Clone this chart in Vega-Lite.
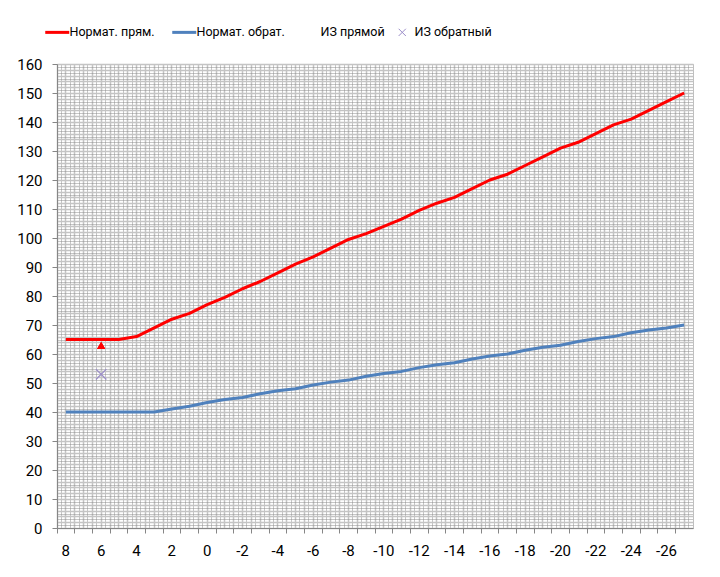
{
  "$schema": "https://vega.github.io/schema/vega-lite/v6.json",
  "width": 636,
  "height": 464,
  "autosize": {"type": "none"},
  "padding": {"left": 57, "top": 64, "right": 27, "bottom": 49},
  "background": "white",
  "config": {
    "font": "Roboto",
    "view": {"stroke": "#BFBFBF"},
    "axis": {"labelFont": "Roboto", "labelFontSize": 15, "labelColor": "#000000", "domainColor": "#868686", "tickColor": "#868686", "title": null},
    "legend": {"labelFont": "Roboto", "labelFontSize": 12.5, "labelColor": "#000000"}
  },
  "datasets": {
    "lines": [
      {"x": 8, "s": "Нормат. прям.", "v": 65}, {"x": 7, "s": "Нормат. прям.", "v": 65}, {"x": 6, "s": "Нормат. прям.", "v": 65}, {"x": 5, "s": "Нормат. прям.", "v": 65},
      {"x": 4, "s": "Нормат. прям.", "v": 66}, {"x": 3, "s": "Нормат. прям.", "v": 69}, {"x": 2, "s": "Нормат. прям.", "v": 72}, {"x": 1, "s": "Нормат. прям.", "v": 74},
      {"x": 0, "s": "Нормат. прям.", "v": 77}, {"x": -1, "s": "Нормат. прям.", "v": 79.5}, {"x": -2, "s": "Нормат. прям.", "v": 82.5}, {"x": -3, "s": "Нормат. прям.", "v": 85},
      {"x": -4, "s": "Нормат. прям.", "v": 88}, {"x": -5, "s": "Нормат. прям.", "v": 91}, {"x": -6, "s": "Нормат. прям.", "v": 93.5}, {"x": -7, "s": "Нормат. прям.", "v": 96.5},
      {"x": -8, "s": "Нормат. прям.", "v": 99.5}, {"x": -9, "s": "Нормат. прям.", "v": 101.5}, {"x": -10, "s": "Нормат. прям.", "v": 104}, {"x": -11, "s": "Нормат. прям.", "v": 106.5},
      {"x": -12, "s": "Нормат. прям.", "v": 109.5}, {"x": -13, "s": "Нормат. прям.", "v": 112}, {"x": -14, "s": "Нормат. прям.", "v": 114}, {"x": -15, "s": "Нормат. прям.", "v": 117},
      {"x": -16, "s": "Нормат. прям.", "v": 120}, {"x": -17, "s": "Нормат. прям.", "v": 122}, {"x": -18, "s": "Нормат. прям.", "v": 125}, {"x": -19, "s": "Нормат. прям.", "v": 128},
      {"x": -20, "s": "Нормат. прям.", "v": 131}, {"x": -21, "s": "Нормат. прям.", "v": 133}, {"x": -22, "s": "Нормат. прям.", "v": 136}, {"x": -23, "s": "Нормат. прям.", "v": 139},
      {"x": -24, "s": "Нормат. прям.", "v": 141}, {"x": -25, "s": "Нормат. прям.", "v": 144}, {"x": -26, "s": "Нормат. прям.", "v": 147}, {"x": -27, "s": "Нормат. прям.", "v": 150},
      {"x": 8, "s": "Нормат. обрат.", "v": 40}, {"x": 7, "s": "Нормат. обрат.", "v": 40}, {"x": 6, "s": "Нормат. обрат.", "v": 40}, {"x": 5, "s": "Нормат. обрат.", "v": 40},
      {"x": 4, "s": "Нормат. обрат.", "v": 40}, {"x": 3, "s": "Нормат. обрат.", "v": 40}, {"x": 2, "s": "Нормат. обрат.", "v": 41}, {"x": 1, "s": "Нормат. обрат.", "v": 42},
      {"x": 0, "s": "Нормат. обрат.", "v": 43.3}, {"x": -1, "s": "Нормат. обрат.", "v": 44.3}, {"x": -2, "s": "Нормат. обрат.", "v": 45}, {"x": -3, "s": "Нормат. обрат.", "v": 46.3},
      {"x": -4, "s": "Нормат. обрат.", "v": 47.3}, {"x": -5, "s": "Нормат. обрат.", "v": 48}, {"x": -6, "s": "Нормат. обрат.", "v": 49.3}, {"x": -7, "s": "Нормат. обрат.", "v": 50.3},
      {"x": -8, "s": "Нормат. обрат.", "v": 51}, {"x": -9, "s": "Нормат. обрат.", "v": 52.3}, {"x": -10, "s": "Нормат. обрат.", "v": 53.3}, {"x": -11, "s": "Нормат. обрат.", "v": 54},
      {"x": -12, "s": "Нормат. обрат.", "v": 55.3}, {"x": -13, "s": "Нормат. обрат.", "v": 56.3}, {"x": -14, "s": "Нормат. обрат.", "v": 57}, {"x": -15, "s": "Нормат. обрат.", "v": 58.3},
      {"x": -16, "s": "Нормат. обрат.", "v": 59.3}, {"x": -17, "s": "Нормат. обрат.", "v": 60}, {"x": -18, "s": "Нормат. обрат.", "v": 61.3}, {"x": -19, "s": "Нормат. обрат.", "v": 62.3},
      {"x": -20, "s": "Нормат. обрат.", "v": 63}, {"x": -21, "s": "Нормат. обрат.", "v": 64.3}, {"x": -22, "s": "Нормат. обрат.", "v": 65.3}, {"x": -23, "s": "Нормат. обрат.", "v": 66},
      {"x": -24, "s": "Нормат. обрат.", "v": 67.3}, {"x": -25, "s": "Нормат. обрат.", "v": 68.3}, {"x": -26, "s": "Нормат. обрат.", "v": 69}, {"x": -27, "s": "Нормат. обрат.", "v": 70}
    ],
    "points": [
      {"x": 6, "s": "ИЗ прямой", "v": 63},
      {"x": 6, "s": "ИЗ обратный", "v": 53}
    ]
  },
  "resolve": {"axis": {"x": "independent", "y": "independent"}},
  "layer": [
    {
      "data": {"name": "points"},
      "transform": [{"filter": "datum.s === 'ИЗ прямой'"}],
      "mark": {"type": "point", "shape": "triangle-up", "filled": true, "size": 70, "opacity": 1},
      "encoding": {
        "x": {"field": "x", "type": "ordinal", "sort": "descending",
          "scale": {"type": "band", "paddingInner": 0, "paddingOuter": 0},
          "axis": {"orient": "bottom", "bandPosition": 0.75, "labels": false, "ticks": false, "domain": false, "grid": true, "gridColor": "#8C8C8C", "gridDash": [1, 1], "gridWidth": 1}},
        "y": {"field": "v", "type": "quantitative",
          "scale": {"domain": [0, 160], "nice": false, "zero": true},
          "axis": null},
        "color": {"field": "s", "type": "nominal"}
      }
    },
    {
      "data": {"name": "lines"},
      "mark": {"type": "line", "strokeWidth": 3, "strokeJoin": "round"},
      "encoding": {
        "x": {"field": "x", "type": "ordinal", "sort": "descending",
          "axis": {"orient": "bottom", "bandPosition": 0, "labels": false, "ticks": true, "tickSize": 5, "grid": true, "gridColor": "#C4C4C4", "gridWidth": 1.5, "domain": true}},
        "y": {"field": "v", "type": "quantitative",
          "axis": {"orient": "left", "values": [0,10,20,30,40,50,60,70,80,90,100,110,120,130,140,150,160], "grid": false, "tickSize": 5, "labelPadding": 10, "domain": true}},
        "color": {"field": "s", "type": "nominal",
          "scale": {"domain": ["Нормат. прям.", "Нормат. обрат.", "ИЗ прямой", "ИЗ обратный"], "range": ["#FF0000", "#4F81BD", "#FF0000", "#9A8CC8"]},
          "legend": {"title": null, "orient": "none", "legendX": -6, "legendY": -38, "direction": "horizontal", "padding": 0,
            "symbolSize": 576, "symbolStrokeWidth": 3, "labelOffset": 6, "columnPadding": 11,
            "encode": {"symbols": {"update": {
              "shape": {"signal": "datum.value === 'ИЗ обратный' ? 'M-0.3,-0.3L0.3,0.3M-0.3,0.3L0.3,-0.3' : 'stroke'"},
              "strokeWidth": {"signal": "datum.value === 'ИЗ обратный' ? 1 : 3"},
              "opacity": {"signal": "datum.value === 'ИЗ прямой' ? 0 : 1"},
              "stroke": {"signal": "datum.value === 'Нормат. прям.' ? '#FF0000' : datum.value === 'Нормат. обрат.' ? '#4F81BD' : '#9A8CC8'"},
              "fill": {"value": "transparent"}
            }}}}}
      }
    },
    {
      "data": {"name": "points"},
      "transform": [{"filter": "datum.s === 'ИЗ прямой'"}],
      "mark": {"type": "point", "shape": "triangle-up", "filled": true, "size": 70, "opacity": 1},
      "encoding": {
        "x": {"field": "x", "type": "ordinal", "sort": "descending",
          "axis": {"orient": "bottom", "bandPosition": 0.5, "ticks": false, "tickSize": 0, "labelPadding": 15, "labelAngle": 0, "domain": false, "grid": true, "gridColor": "#C4C4C4", "gridWidth": 1.5,
            "labelExpr": "datum.value % 2 === 0 ? datum.label : ''"}},
        "y": {"field": "v", "type": "quantitative",
          "axis": {"orient": "left", "values": [0,2,4,6,8,10,12,14,16,18,20,22,24,26,28,30,32,34,36,38,40,42,44,46,48,50,52,54,56,58,60,62,64,66,68,70,72,74,76,78,80,82,84,86,88,90,92,94,96,98,100,102,104,106,108,110,112,114,116,118,120,122,124,126,128,130,132,134,136,138,140,142,144,146,148,150,152,154,156,158,160], "labels": false, "ticks": false, "domain": false, "grid": true, "gridColor": "#C4C4C4", "gridWidth": 1.5}},
        "color": {"field": "s", "type": "nominal"}
      }
    },
    {
      "data": {"name": "points"},
      "transform": [{"filter": "datum.s === 'ИЗ обратный'"}],
      "mark": {"type": "point", "shape": "M-1,-1L1,1M-1,1L1,-1", "filled": false, "size": 110, "strokeWidth": 1.2, "opacity": 1},
      "encoding": {
        "x": {"field": "x", "type": "ordinal", "sort": "descending",
          "axis": {"orient": "bottom", "bandPosition": 0.25, "labels": false, "ticks": false, "domain": false, "grid": true, "gridColor": "#8C8C8C", "gridDash": [1, 1], "gridWidth": 1}},
        "y": {"field": "v", "type": "quantitative",
          "axis": {"orient": "left", "values": [1,3,5,7,9,11,13,15,17,19,21,23,25,27,29,31,33,35,37,39,41,43,45,47,49,51,53,55,57,59,61,63,65,67,69,71,73,75,77,79,81,83,85,87,89,91,93,95,97,99,101,103,105,107,109,111,113,115,117,119,121,123,125,127,129,131,133,135,137,139,141,143,145,147,149,151,153,155,157,159], "labels": false, "ticks": false, "domain": false, "grid": true, "gridColor": "#8C8C8C", "gridDash": [1, 1], "gridWidth": 1}},
        "color": {"field": "s", "type": "nominal"}
      }
    }
  ]
}
